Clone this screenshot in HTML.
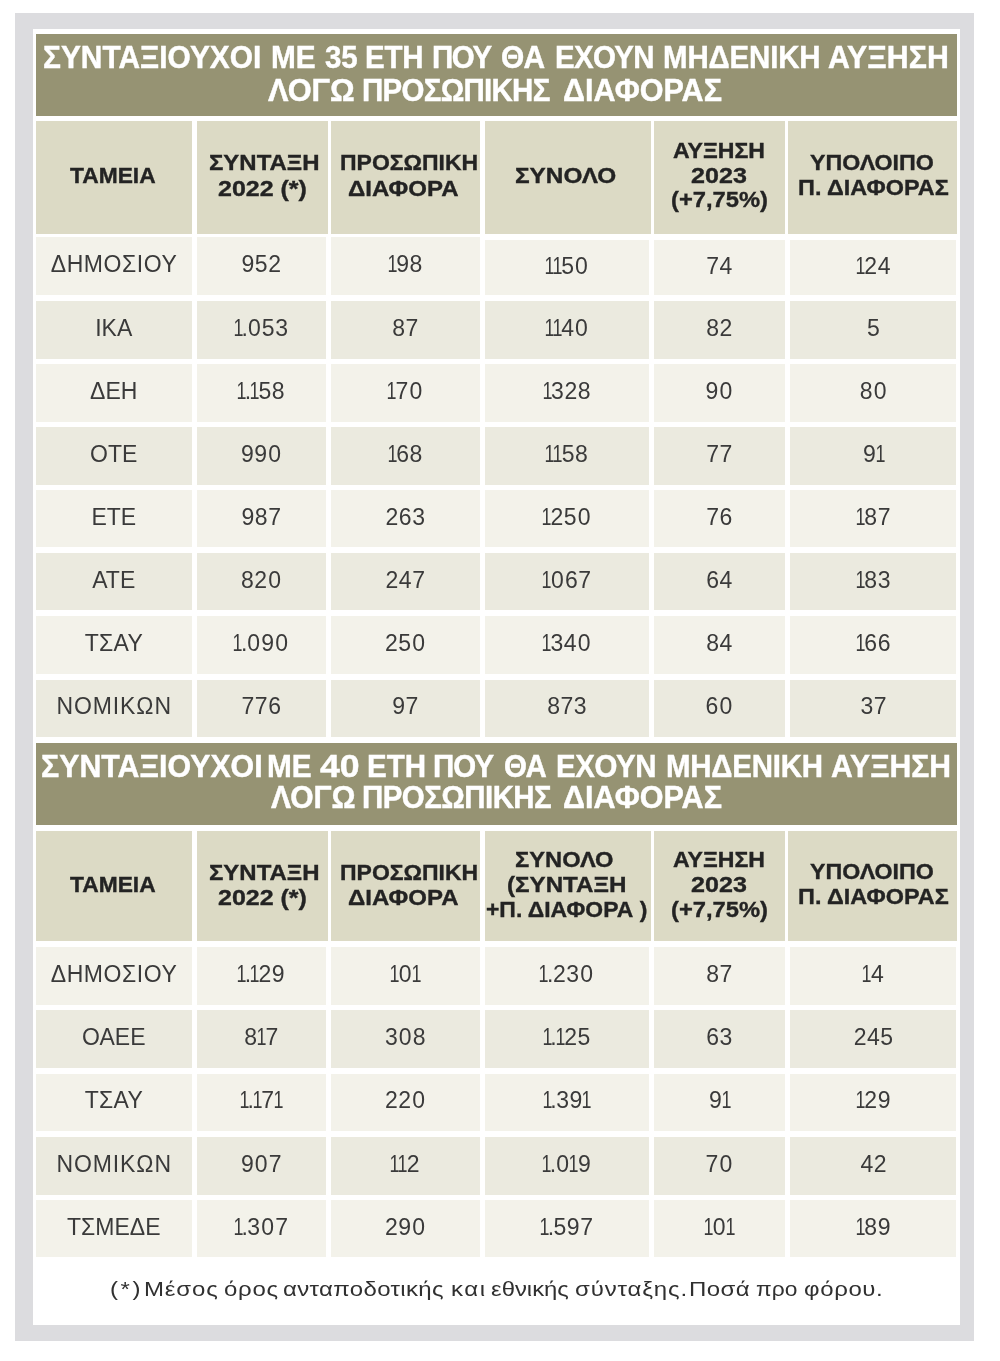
<!DOCTYPE html>
<html lang="el"><head><meta charset="utf-8"><title>Συνταξιούχοι με μηδενική αύξηση λόγω προσωπικής διαφοράς</title>
<style>
html,body{margin:0;padding:0;background:#fff}
body{width:1000px;height:1361px;position:relative;overflow:hidden;font-family:"Liberation Sans",sans-serif}
#page{position:absolute;left:0;top:0;width:1000px;height:1361px;filter:blur(.65px)}
.frame,.inner,.band,.hc,.dc,.foot{position:absolute;box-sizing:border-box}
.frame{background:#dcdcdf}.inner{background:#fff}
.band{background:#969373;color:#fff;font-weight:700;font-size:32px;-webkit-text-stroke:.45px #fff;margin:0}
.hc{background:#dcdac5;color:#232323;font-weight:700;font-size:22px;-webkit-text-stroke:.35px #232323}
.dc{color:#3a3a3a;font-size:23px;line-height:1;text-align:center;white-space:pre}
.dc.a{background:#f3f2ea}.dc.b{background:#ebeadf}
.num{letter-spacing:.5px}
.foot{color:#303030;font-size:20px;margin:0}
.t{position:absolute;white-space:pre;line-height:1;transform-origin:0 0}
.n{display:inline-block;transform:scaleX(.78);margin:0 -2.7px}.z{margin:0 .6px}.d{margin:0 -1px}
</style></head><body>
<div id="page">
<div class="frame" style="left:15px;top:12.5px;width:959.00px;height:1328.00px"></div>
<div class="inner" style="left:32.5px;top:28.5px;width:927.50px;height:1296.50px"></div>
<section class="table">
<h2 class="band" style="left:35.5px;top:33.5px;width:921.00px;height:82.00px"><span class="t" style="left:7.97px;top:7.41px;transform:scaleX(0.9333)">ΣΥΝΤΑΞΙΟΥΧΟΙ</span> <span class="t" style="left:235.72px;top:7.41px;transform:scaleX(0.9302)">ΜΕ</span> <span class="t" style="left:289.45px;top:7.41px;transform:scaleX(0.9200);letter-spacing:-0.168px">35</span> <span class="t" style="left:329.74px;top:7.41px;transform:scaleX(0.9200);letter-spacing:-0.240px">ΕΤΗ</span> <span class="t" style="left:396.74px;top:7.41px;transform:scaleX(0.9200);letter-spacing:-1.539px">ΠΟΥ</span> <span class="t" style="left:465.17px;top:7.41px;transform:scaleX(0.9347)">ΘΑ</span> <span class="t" style="left:519.74px;top:7.41px;transform:scaleX(0.9200);letter-spacing:-0.729px">ΕΧΟΥΝ</span> <span class="t" style="left:627.14px;top:7.41px;transform:scaleX(0.9200);letter-spacing:-0.149px">ΜΗΔΕΝΙΚΗ</span> <span class="t" style="left:792.83px;top:7.41px;transform:scaleX(0.9466)">ΑΥΞΗΣΗ</span> <br> <span class="t" style="left:232.92px;top:40.91px;transform:scaleX(0.9607)">ΛΟΓΩ</span> <span class="t" style="left:326.74px;top:40.91px;transform:scaleX(0.9200);letter-spacing:-0.768px">ΠΡΟΣΩΠΙΚΗΣ</span> <span class="t" style="left:527.55px;top:40.91px;transform:scaleX(0.9545)">ΔΙΑΦΟΡΑΣ</span></h2>
<div class="thead">
<div class="hc" style="left:35.5px;top:121.2px;width:156.50px;height:112.80px"><span class="t" style="left:34.50px;top:43.38px;transform:scaleX(1.0358)">ΤΑΜΕΙΑ</span></div>
<div class="hc" style="left:197px;top:121.2px;width:131.00px;height:112.80px"><span class="t" style="left:11.67px;top:31.18px;transform:scaleX(1.0885)">ΣΥΝΤΑΞΗ</span> <span class="t" style="left:20.60px;top:56.68px;transform:scaleX(1.1357)">2022 (*)</span></div>
<div class="hc" style="left:331px;top:121.2px;width:148.50px;height:112.80px"><span class="t" style="left:8.96px;top:31.18px;transform:scaleX(1.0440)">ΠΡΟΣΩΠΙΚΗ</span> <span class="t" style="left:17.30px;top:56.68px;transform:scaleX(1.0911)">ΔΙΑΦΟΡΑ</span></div>
<div class="hc" style="left:485px;top:121.2px;width:166.00px;height:112.80px"><span class="t" style="left:30.15px;top:43.58px;transform:scaleX(1.1071)">ΣΥΝΟΛΟ</span></div>
<div class="hc" style="left:654.4px;top:121.2px;width:130.30px;height:112.80px"><span class="t" style="left:19.10px;top:18.58px;transform:scaleX(1.0494)">ΑΥΞΗΣΗ</span> <span class="t" style="left:36.60px;top:43.58px;transform:scaleX(1.1400);letter-spacing:0.064px">2023</span> <span class="t" style="left:16.60px;top:68.08px;transform:scaleX(1.0787)">(+7,75%)</span></div>
<div class="hc" style="left:788px;top:121.2px;width:168.50px;height:112.80px"><span class="t" style="left:22.30px;top:30.58px;transform:scaleX(1.0547)">ΥΠΟΛΟΙΠΟ</span> <span class="t" style="left:9.94px;top:55.58px;transform:scaleX(1.0625)">Π. ΔΙΑΦΟΡΑΣ</span></div>
</div>
<div class="tbody">
<div class="tr"><div class="dc a" style="left:35.5px;top:237.3px;width:156.50px;height:57.70px;padding:15.73px 0 0 0.55px;letter-spacing:0.55px">ΔΗΜΟΣΙΟΥ</div><div class="dc num a" style="left:197px;top:237.3px;width:128.50px;height:57.70px;padding:15.73px 0 0 0.5px">952</div><div class="dc num a" style="left:331px;top:237.3px;width:148.50px;height:57.70px;padding:15.73px 0 0 0.5px"><span class="n">1</span>98</div><div class="dc num a" style="left:485px;top:239.8px;width:163.70px;height:55.20px;padding:15.23px 0 0 0.5px"><span class="n">1</span><span class="n">1</span>5<span class="z">0</span></div><div class="dc num a" style="left:654px;top:239.8px;width:130.50px;height:55.20px;padding:15.23px 0 0 0.5px">74</div><div class="dc num a" style="left:790.4px;top:239.8px;width:166.10px;height:55.20px;padding:15.23px 0 0 0.5px"><span class="n">1</span>24</div></div>
<div class="tr"><div class="dc b" style="left:35.5px;top:300.9px;width:156.50px;height:57.70px;padding:15.73px 0 0 0px">ΙΚΑ</div><div class="dc num b" style="left:197px;top:300.9px;width:128.50px;height:57.70px;padding:15.73px 0 0 0.5px"><span class="n">1</span><span class="d">.</span><span class="z">0</span>53</div><div class="dc num b" style="left:331px;top:300.9px;width:148.50px;height:57.70px;padding:15.73px 0 0 0.5px">87</div><div class="dc num b" style="left:485px;top:300.9px;width:163.70px;height:57.70px;padding:15.73px 0 0 0.5px"><span class="n">1</span><span class="n">1</span>4<span class="z">0</span></div><div class="dc num b" style="left:654px;top:300.9px;width:130.50px;height:57.70px;padding:15.73px 0 0 0.5px">82</div><div class="dc num b" style="left:790.4px;top:300.9px;width:166.10px;height:57.70px;padding:15.73px 0 0 0.5px">5</div></div>
<div class="tr"><div class="dc a" style="left:35.5px;top:363.9px;width:156.50px;height:57.70px;padding:15.73px 0 0 0px">ΔΕΗ</div><div class="dc num a" style="left:197px;top:363.9px;width:128.50px;height:57.70px;padding:15.73px 0 0 0.5px"><span class="n">1</span><span class="d">.</span><span class="n">1</span>58</div><div class="dc num a" style="left:331px;top:363.9px;width:148.50px;height:57.70px;padding:15.73px 0 0 0.5px"><span class="n">1</span>7<span class="z">0</span></div><div class="dc num a" style="left:485px;top:363.9px;width:163.70px;height:57.70px;padding:15.73px 0 0 0.5px"><span class="n">1</span>328</div><div class="dc num a" style="left:654px;top:363.9px;width:130.50px;height:57.70px;padding:15.73px 0 0 0.5px">9<span class="z">0</span></div><div class="dc num a" style="left:790.4px;top:363.9px;width:166.10px;height:57.70px;padding:15.73px 0 0 0.5px">8<span class="z">0</span></div></div>
<div class="tr"><div class="dc b" style="left:35.5px;top:427.4px;width:156.50px;height:57.70px;padding:15.73px 0 0 0px">ΟΤΕ</div><div class="dc num b" style="left:197px;top:427.4px;width:128.50px;height:57.70px;padding:15.73px 0 0 0.5px">99<span class="z">0</span></div><div class="dc num b" style="left:331px;top:427.4px;width:148.50px;height:57.70px;padding:15.73px 0 0 0.5px"><span class="n">1</span>68</div><div class="dc num b" style="left:485px;top:427.4px;width:163.70px;height:57.70px;padding:15.73px 0 0 0.5px"><span class="n">1</span><span class="n">1</span>58</div><div class="dc num b" style="left:654px;top:427.4px;width:130.50px;height:57.70px;padding:15.73px 0 0 0.5px">77</div><div class="dc num b" style="left:790.4px;top:427.4px;width:166.10px;height:57.70px;padding:15.73px 0 0 0.5px">9<span class="n">1</span></div></div>
<div class="tr"><div class="dc a" style="left:35.5px;top:489.8px;width:156.50px;height:57.70px;padding:15.73px 0 0 0px">ΕΤΕ</div><div class="dc num a" style="left:197px;top:489.8px;width:128.50px;height:57.70px;padding:15.73px 0 0 0.5px">987</div><div class="dc num a" style="left:331px;top:489.8px;width:148.50px;height:57.70px;padding:15.73px 0 0 0.5px">263</div><div class="dc num a" style="left:485px;top:489.8px;width:163.70px;height:57.70px;padding:15.73px 0 0 0.5px"><span class="n">1</span>25<span class="z">0</span></div><div class="dc num a" style="left:654px;top:489.8px;width:130.50px;height:57.70px;padding:15.73px 0 0 0.5px">76</div><div class="dc num a" style="left:790.4px;top:489.8px;width:166.10px;height:57.70px;padding:15.73px 0 0 0.5px"><span class="n">1</span>87</div></div>
<div class="tr"><div class="dc b" style="left:35.5px;top:552.8px;width:156.50px;height:57.70px;padding:15.73px 0 0 0px">ΑΤΕ</div><div class="dc num b" style="left:197px;top:552.8px;width:128.50px;height:57.70px;padding:15.73px 0 0 0.5px">82<span class="z">0</span></div><div class="dc num b" style="left:331px;top:552.8px;width:148.50px;height:57.70px;padding:15.73px 0 0 0.5px">247</div><div class="dc num b" style="left:485px;top:552.8px;width:163.70px;height:57.70px;padding:15.73px 0 0 0.5px"><span class="n">1</span><span class="z">0</span>67</div><div class="dc num b" style="left:654px;top:552.8px;width:130.50px;height:57.70px;padding:15.73px 0 0 0.5px">64</div><div class="dc num b" style="left:790.4px;top:552.8px;width:166.10px;height:57.70px;padding:15.73px 0 0 0.5px"><span class="n">1</span>83</div></div>
<div class="tr"><div class="dc a" style="left:35.5px;top:616.2px;width:156.50px;height:57.70px;padding:15.73px 0 0 0.3px;letter-spacing:0.3px">ΤΣΑΥ</div><div class="dc num a" style="left:197px;top:616.2px;width:128.50px;height:57.70px;padding:15.73px 0 0 0.5px"><span class="n">1</span><span class="d">.</span><span class="z">0</span>9<span class="z">0</span></div><div class="dc num a" style="left:331px;top:616.2px;width:148.50px;height:57.70px;padding:15.73px 0 0 0.5px">25<span class="z">0</span></div><div class="dc num a" style="left:485px;top:616.2px;width:163.70px;height:57.70px;padding:15.73px 0 0 0.5px"><span class="n">1</span>34<span class="z">0</span></div><div class="dc num a" style="left:654px;top:616.2px;width:130.50px;height:57.70px;padding:15.73px 0 0 0.5px">84</div><div class="dc num a" style="left:790.4px;top:616.2px;width:166.10px;height:57.70px;padding:15.73px 0 0 0.5px"><span class="n">1</span>66</div></div>
<div class="tr"><div class="dc b" style="left:35.5px;top:679.5px;width:156.50px;height:57.70px;padding:15.73px 0 0 0.9px;letter-spacing:0.9px">ΝΟΜΙΚΩΝ</div><div class="dc num b" style="left:197px;top:679.5px;width:128.50px;height:57.70px;padding:15.73px 0 0 0.5px">776</div><div class="dc num b" style="left:331px;top:679.5px;width:148.50px;height:57.70px;padding:15.73px 0 0 0.5px">97</div><div class="dc num b" style="left:485px;top:679.5px;width:163.70px;height:57.70px;padding:15.73px 0 0 0.5px">873</div><div class="dc num b" style="left:654px;top:679.5px;width:130.50px;height:57.70px;padding:15.73px 0 0 0.5px">6<span class="z">0</span></div><div class="dc num b" style="left:790.4px;top:679.5px;width:166.10px;height:57.70px;padding:15.73px 0 0 0.5px">37</div></div>
</div>
</section>
<section class="table">
<h2 class="band" style="left:35.5px;top:742.5px;width:921.00px;height:82.00px"><span class="t" style="left:5.05px;top:7.81px;transform:scaleX(0.9476)">ΣΥΝΤΑΞΙΟΥΧΟΙ</span> <span class="t" style="left:231.72px;top:7.81px;transform:scaleX(0.9302)">ΜΕ</span> <span class="t" style="left:284.50px;top:7.81px;transform:scaleX(1.1143)">40</span> <span class="t" style="left:331.13px;top:7.81px;transform:scaleX(0.9226)">ΕΤΗ</span> <span class="t" style="left:397.74px;top:7.81px;transform:scaleX(0.9200);letter-spacing:-0.996px">ΠΟΥ</span> <span class="t" style="left:468.58px;top:7.81px;transform:scaleX(0.9200);letter-spacing:-0.796px">ΘΑ</span> <span class="t" style="left:520.74px;top:7.81px;transform:scaleX(0.9200);letter-spacing:-0.457px">ΕΧΟΥΝ</span> <span class="t" style="left:630.74px;top:7.81px;transform:scaleX(0.9200);letter-spacing:-0.242px">ΜΗΔΕΝΙΚΗ</span> <span class="t" style="left:795.84px;top:7.81px;transform:scaleX(0.9418)">ΑΥΞΗΣΗ</span> <br> <span class="t" style="left:235.01px;top:38.51px;transform:scaleX(0.9372)">ΛΟΓΩ</span> <span class="t" style="left:326.34px;top:38.51px;transform:scaleX(0.9200);letter-spacing:-0.599px">ΠΡΟΣΩΠΙΚΗΣ</span> <span class="t" style="left:527.55px;top:38.51px;transform:scaleX(0.9545)">ΔΙΑΦΟΡΑΣ</span></h2>
<div class="thead">
<div class="hc" style="left:35.5px;top:831.2px;width:156.50px;height:109.80px"><span class="t" style="left:34.50px;top:42.88px;transform:scaleX(1.0358)">ΤΑΜΕΙΑ</span></div>
<div class="hc" style="left:197px;top:831.2px;width:131.00px;height:109.80px"><span class="t" style="left:11.67px;top:30.68px;transform:scaleX(1.0885)">ΣΥΝΤΑΞΗ</span> <span class="t" style="left:20.60px;top:56.18px;transform:scaleX(1.1357)">2022 (*)</span></div>
<div class="hc" style="left:331px;top:831.2px;width:148.50px;height:109.80px"><span class="t" style="left:8.96px;top:30.68px;transform:scaleX(1.0440)">ΠΡΟΣΩΠΙΚΗ</span> <span class="t" style="left:17.30px;top:56.18px;transform:scaleX(1.0911)">ΔΙΑΦΟΡΑ</span></div>
<div class="hc" style="left:485px;top:831.2px;width:166.00px;height:109.80px"><span class="t" style="left:30.18px;top:17.48px;transform:scaleX(1.0772)">ΣΥΝΟΛΟ</span> <span class="t" style="left:21.58px;top:42.88px;transform:scaleX(1.0983)">(ΣΥΝΤΑΞΗ</span> <span class="t" style="left:1.49px;top:67.88px;transform:scaleX(1.0410)">+Π. ΔΙΑΦΟΡΑ )</span></div>
<div class="hc" style="left:654.4px;top:831.2px;width:130.30px;height:109.80px"><span class="t" style="left:19.10px;top:18.08px;transform:scaleX(1.0494)">ΑΥΞΗΣΗ</span> <span class="t" style="left:36.60px;top:43.08px;transform:scaleX(1.1400);letter-spacing:0.064px">2023</span> <span class="t" style="left:16.60px;top:67.58px;transform:scaleX(1.0787)">(+7,75%)</span></div>
<div class="hc" style="left:788px;top:831.2px;width:168.50px;height:109.80px"><span class="t" style="left:22.30px;top:30.08px;transform:scaleX(1.0547)">ΥΠΟΛΟΙΠΟ</span> <span class="t" style="left:9.94px;top:55.08px;transform:scaleX(1.0625)">Π. ΔΙΑΦΟΡΑΣ</span></div>
</div>
<div class="tbody">
<div class="tr"><div class="dc a" style="left:35.5px;top:947px;width:156.50px;height:57.70px;padding:15.73px 0 0 0.55px;letter-spacing:0.55px">ΔΗΜΟΣΙΟΥ</div><div class="dc num a" style="left:197px;top:947px;width:128.50px;height:57.70px;padding:15.73px 0 0 0.5px"><span class="n">1</span><span class="d">.</span><span class="n">1</span>29</div><div class="dc num a" style="left:331px;top:947px;width:148.50px;height:57.70px;padding:15.73px 0 0 0.5px"><span class="n">1</span><span class="z">0</span><span class="n">1</span></div><div class="dc num a" style="left:485px;top:947px;width:163.70px;height:57.70px;padding:15.73px 0 0 0.5px"><span class="n">1</span><span class="d">.</span>23<span class="z">0</span></div><div class="dc num a" style="left:654px;top:947px;width:130.50px;height:57.70px;padding:15.73px 0 0 0.5px">87</div><div class="dc num a" style="left:790.4px;top:947px;width:166.10px;height:57.70px;padding:15.73px 0 0 0.5px"><span class="n">1</span>4</div></div>
<div class="tr"><div class="dc b" style="left:35.5px;top:1010px;width:156.50px;height:57.70px;padding:15.73px 0 0 0px">ΟΑΕΕ</div><div class="dc num b" style="left:197px;top:1010px;width:128.50px;height:57.70px;padding:15.73px 0 0 0.5px">8<span class="n">1</span>7</div><div class="dc num b" style="left:331px;top:1010px;width:148.50px;height:57.70px;padding:15.73px 0 0 0.5px">3<span class="z">0</span>8</div><div class="dc num b" style="left:485px;top:1010px;width:163.70px;height:57.70px;padding:15.73px 0 0 0.5px"><span class="n">1</span><span class="d">.</span><span class="n">1</span>25</div><div class="dc num b" style="left:654px;top:1010px;width:130.50px;height:57.70px;padding:15.73px 0 0 0.5px">63</div><div class="dc num b" style="left:790.4px;top:1010px;width:166.10px;height:57.70px;padding:15.73px 0 0 0.5px">245</div></div>
<div class="tr"><div class="dc a" style="left:35.5px;top:1073.5px;width:156.50px;height:57.70px;padding:15.73px 0 0 0.3px;letter-spacing:0.3px">ΤΣΑΥ</div><div class="dc num a" style="left:197px;top:1073.5px;width:128.50px;height:57.70px;padding:15.73px 0 0 0.5px"><span class="n">1</span><span class="d">.</span><span class="n">1</span>7<span class="n">1</span></div><div class="dc num a" style="left:331px;top:1073.5px;width:148.50px;height:57.70px;padding:15.73px 0 0 0.5px">22<span class="z">0</span></div><div class="dc num a" style="left:485px;top:1073.5px;width:163.70px;height:57.70px;padding:15.73px 0 0 0.5px"><span class="n">1</span><span class="d">.</span>39<span class="n">1</span></div><div class="dc num a" style="left:654px;top:1073.5px;width:130.50px;height:57.70px;padding:15.73px 0 0 0.5px">9<span class="n">1</span></div><div class="dc num a" style="left:790.4px;top:1073.5px;width:166.10px;height:57.70px;padding:15.73px 0 0 0.5px"><span class="n">1</span>29</div></div>
<div class="tr"><div class="dc b" style="left:35.5px;top:1137.3px;width:156.50px;height:57.70px;padding:15.73px 0 0 0.9px;letter-spacing:0.9px">ΝΟΜΙΚΩΝ</div><div class="dc num b" style="left:197px;top:1137.3px;width:128.50px;height:57.70px;padding:15.73px 0 0 0.5px">9<span class="z">0</span>7</div><div class="dc num b" style="left:331px;top:1137.3px;width:148.50px;height:57.70px;padding:15.73px 0 0 0.5px"><span class="n">1</span><span class="n">1</span>2</div><div class="dc num b" style="left:485px;top:1137.3px;width:163.70px;height:57.70px;padding:15.73px 0 0 0.5px"><span class="n">1</span><span class="d">.</span><span class="z">0</span><span class="n">1</span>9</div><div class="dc num b" style="left:654px;top:1137.3px;width:130.50px;height:57.70px;padding:15.73px 0 0 0.5px">7<span class="z">0</span></div><div class="dc num b" style="left:790.4px;top:1137.3px;width:166.10px;height:57.70px;padding:15.73px 0 0 0.5px">42</div></div>
<div class="tr"><div class="dc a" style="left:35.5px;top:1199.8px;width:156.50px;height:57.70px;padding:15.73px 0 0 0px">ΤΣΜΕΔΕ</div><div class="dc num a" style="left:197px;top:1199.8px;width:128.50px;height:57.70px;padding:15.73px 0 0 0.5px"><span class="n">1</span><span class="d">.</span>3<span class="z">0</span>7</div><div class="dc num a" style="left:331px;top:1199.8px;width:148.50px;height:57.70px;padding:15.73px 0 0 0.5px">29<span class="z">0</span></div><div class="dc num a" style="left:485px;top:1199.8px;width:163.70px;height:57.70px;padding:15.73px 0 0 0.5px"><span class="n">1</span><span class="d">.</span>597</div><div class="dc num a" style="left:654px;top:1199.8px;width:130.50px;height:57.70px;padding:15.73px 0 0 0.5px"><span class="n">1</span><span class="z">0</span><span class="n">1</span></div><div class="dc num a" style="left:790.4px;top:1199.8px;width:166.10px;height:57.70px;padding:15.73px 0 0 0.5px"><span class="n">1</span>89</div></div>
</div>
</section>
<p class="foot" style="left:35.5px;top:1262px;width:921.00px;height:60.00px"><span class="t" style="left:74.90px;top:17.07px;transform:scaleX(1.2000);letter-spacing:2.125px">(*)</span> <span class="t" style="left:108.53px;top:17.07px;transform:scaleX(1.2000);letter-spacing:0.701px">Μέσος</span> <span class="t" style="left:188.45px;top:17.07px;transform:scaleX(1.2000);letter-spacing:0.578px">όρος</span> <span class="t" style="left:247.45px;top:17.07px;transform:scaleX(1.2000);letter-spacing:0.281px">ανταποδοτικής</span> <span class="t" style="left:415.30px;top:17.07px;transform:scaleX(1.2000);letter-spacing:1.327px">και</span> <span class="t" style="left:455.56px;top:17.07px;transform:scaleX(1.1933)">εθνικής</span> <span class="t" style="left:539.44px;top:17.07px;transform:scaleX(1.2000);letter-spacing:0.715px">σύνταξης.</span> <span class="t" style="left:653.53px;top:17.07px;transform:scaleX(1.2000);letter-spacing:0.325px">Ποσά</span> <span class="t" style="left:720.57px;top:17.07px;transform:scaleX(1.1394)">προ</span> <span class="t" style="left:768.96px;top:17.07px;transform:scaleX(1.2000);letter-spacing:0.511px">φόρου.</span></p>
</div>
</body></html>
